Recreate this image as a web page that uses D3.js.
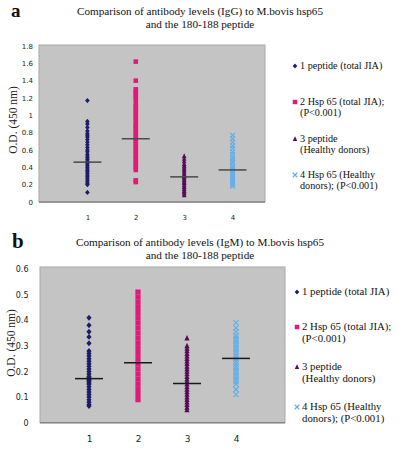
<!DOCTYPE html>
<html>
<head>
<meta charset="utf-8">
<script src="https://cdn.jsdelivr.net/npm/d3@7"></script>
<style>
  html, body { margin: 0; padding: 0; background: #ffffff; }
  svg { display: block; }
</style>
</head>
<body>
<svg id="chart" width="399" height="450"></svg>
<script>
// ---------- data ----------
const categories = [1, 2, 3, 4];
const seriesNames = [
  ["1 peptide (total JIA)"],
  ["2 Hsp 65 (total JIA);", "(P<0.001)"],
  ["3 peptide", "(Healthy donors)"],
  ["4 Hsp 65 (Healthy", "donors); (P<0.001)"]
];
const seriesColors = ["#1c1c68", "#e3197a", "#560c55", "#62b0e6"];
const seriesShapes = ["diamond", "square", "triangle", "cross"];

// Panel a (IgG)
const titleA = ["Comparison of antibody levels (IgG) to M.bovis hsp65", "and the 180-188 peptide"];
const yTicksA = [0, 0.2, 0.4, 0.6, 0.8, 1, 1.2, 1.4, 1.6, 1.8];
const igg1 = [1.17, 0.93, 0.90, 0.86, 0.82, 0.79, 0.77, 0.75, 0.72, 0.69, 0.66, 0.63, 0.60, 0.58, 0.55, 0.53, 0.51, 0.49, 0.47, 0.46, 0.44, 0.42, 0.40, 0.38, 0.36, 0.35, 0.33, 0.31, 0.29, 0.27, 0.25, 0.23, 0.21, 0.20, 0.11];
const igg2 = [1.62, 1.40, 1.30, 1.27, 1.24, 1.21, 1.18, 1.13, 1.10, 1.07, 1.04, 1.01, 0.98, 0.95, 0.91, 0.88, 0.85, 0.82, 0.79, 0.76, 0.73, 0.70, 0.67, 0.64, 0.61, 0.58, 0.55, 0.52, 0.49, 0.46, 0.43, 0.40, 0.37, 0.25, 0.23];
const igg3 = [0.53, 0.50, 0.47, 0.44, 0.42, 0.40, 0.38, 0.36, 0.34, 0.32, 0.30, 0.29, 0.28, 0.26, 0.25, 0.23, 0.22, 0.20, 0.18, 0.17, 0.15, 0.13, 0.12, 0.10, 0.08];
const igg4 = [0.77, 0.73, 0.69, 0.65, 0.62, 0.58, 0.55, 0.52, 0.50, 0.47, 0.45, 0.42, 0.40, 0.38, 0.36, 0.34, 0.32, 0.30, 0.28, 0.26, 0.24, 0.22, 0.20, 0.18];
const iggMeans = [0.46, 0.73, 0.29, 0.37];

// Panel b (IgM)
const titleB = ["Comparison of antibody levels (IgM) to M.bovis hsp65", "and the 180-188 peptide"];
const yTicksB = [0, 0.1, 0.2, 0.3, 0.4, 0.5, 0.6];
const igm1 = [0.41, 0.38, 0.355, 0.335, 0.31, 0.28, 0.27, 0.26, 0.25, 0.24, 0.23, 0.22, 0.21, 0.20, 0.19, 0.18, 0.175, 0.17, 0.165, 0.16, 0.155, 0.15, 0.14, 0.13, 0.12, 0.11, 0.10, 0.09, 0.08, 0.07, 0.065];
const igm2 = [0.51, 0.49, 0.47, 0.45, 0.43, 0.41, 0.39, 0.37, 0.35, 0.33, 0.31, 0.29, 0.27, 0.25, 0.23, 0.21, 0.19, 0.17, 0.15, 0.13, 0.11, 0.09];
const igm3 = [0.33, 0.30, 0.29, 0.28, 0.27, 0.26, 0.25, 0.24, 0.23, 0.22, 0.21, 0.20, 0.19, 0.18, 0.17, 0.16, 0.15, 0.14, 0.13, 0.12, 0.11, 0.10, 0.09, 0.08, 0.07, 0.06, 0.05];
const igm4 = [0.39, 0.37, 0.355, 0.34, 0.33, 0.32, 0.31, 0.30, 0.29, 0.28, 0.27, 0.26, 0.25, 0.24, 0.23, 0.22, 0.21, 0.20, 0.19, 0.18, 0.17, 0.16, 0.15, 0.13, 0.11];
const igmMeans = [0.172, 0.234, 0.153, 0.251];

// ---------- drawing ----------
const svg = d3.select("#chart");
const serif = "'Liberation Serif','Times New Roman',serif";
const sans = "'DejaVu Sans','Verdana',sans-serif";

function markerPath(shape, s) {
  const h = s / 2;
  if (shape === "diamond") return `M0,${-h*1.15}L${h},0L0,${h*1.15}L${-h},0Z`;
  if (shape === "square") return `M${-h},${-h}H${h}V${h}H${-h}Z`;
  if (shape === "triangle") return `M0,${-h*1.2}L${h},${h*0.9}L${-h},${h*0.9}Z`;
  return `M${-h},${-h}L${h},${h}M${h},${-h}L${-h},${h}`;
}
function styleMarker(sel, i) {
  if (seriesShapes[i] === "cross") {
    sel.attr("fill", "none").attr("stroke", seriesColors[i]).attr("stroke-width", 1.2);
  } else {
    sel.attr("fill", seriesColors[i]).attr("stroke", "none");
  }
}

function drawPanel(cfg) {
  const g = svg.append("g");
  const x = d3.scaleLinear().domain([0, cfg.xMax]).range([cfg.left, cfg.right]);
  const y = d3.scaleLinear().domain([0, cfg.yMax]).range([cfg.bottom, cfg.top]);

  // panel letter
  g.append("text").attr("x", cfg.letterX).attr("y", cfg.letterY)
    .attr("font-family", serif).attr("font-weight", "bold").attr("font-size", cfg.letterSize)
    .attr("fill", "#111").text(cfg.letter);

  // title
  cfg.title.forEach((t, k) => {
    g.append("text").attr("x", 200).attr("y", cfg.titleY + k * 13)
      .attr("text-anchor", "middle").attr("font-family", serif)
      .attr("font-size", 11.2).attr("fill", "#111").text(t);
  });

  // plot area
  g.append("rect").attr("x", cfg.left).attr("y", cfg.plotTop)
    .attr("width", cfg.right - cfg.left).attr("height", cfg.bottom - cfg.plotTop)
    .attr("fill", "#c4c4c4").attr("stroke", "#a8a8a8").attr("stroke-width", 1);
  g.append("line").attr("x1", cfg.left).attr("x2", cfg.right)
    .attr("y1", cfg.bottom).attr("y2", cfg.bottom)
    .attr("stroke", "#858585").attr("stroke-width", 1.6);

  // y axis
  const ya = g.append("g").attr("transform", `translate(${cfg.left},0)`)
    .call(d3.axisLeft(y).tickValues(cfg.yTicks).tickSize(0).tickPadding(cfg.yPad).tickFormat(d3.format("")));
  ya.select(".domain").remove();
  ya.selectAll("text").attr("font-family", sans).attr("font-size", cfg.yFont).attr("fill", "#222");

  // y label
  g.append("text").attr("transform", `translate(${cfg.yLabelX},${cfg.yLabelY}) rotate(-90)`)
    .attr("text-anchor", "middle").attr("font-family", serif).attr("font-size", 11.5)
    .attr("fill", "#222").text("O.D. (450 nm)");

  // x axis
  const xa = g.append("g").attr("transform", `translate(0,${cfg.bottom})`)
    .call(d3.axisBottom(x).tickValues(categories).tickSize(0).tickPadding(cfg.xPad).tickFormat(d3.format("d")));
  xa.select(".domain").remove();
  xa.selectAll("text").attr("font-family", sans).attr("font-size", cfg.xFont).attr("fill", "#222");

  // points
  cfg.series.forEach((vals, i) => {
    const sel = g.append("g").selectAll("path").data(vals).join("path")
      .attr("transform", d => `translate(${x(categories[i])},${y(d)})`)
      .attr("d", markerPath(seriesShapes[i], cfg.markerSize));
    styleMarker(sel, i);
  });

  // mean lines
  g.append("g").selectAll("line").data(cfg.means).join("line")
    .attr("x1", (d, i) => x(categories[i]) - 14).attr("x2", (d, i) => x(categories[i]) + 14)
    .attr("y1", d => y(d)).attr("y2", d => y(d))
    .attr("stroke", cfg.meanColor).attr("stroke-width", 1.5);

  // legend
  cfg.legendY.forEach((ly, i) => {
    const m = g.append("path").attr("transform", `translate(${cfg.legendX},${ly - 3})`)
      .attr("d", markerPath(seriesShapes[i], 4.5));
    styleMarker(m, i);
    seriesNames[i].forEach((t, k) => {
      g.append("text").attr("x", cfg.legendX + 5).attr("y", ly + k * cfg.legendLH)
        .attr("font-family", serif).attr("font-size", cfg.legendFont).attr("fill", "#111").text(t);
    });
  });
}

drawPanel({
  letter: "a", letterX: 11, letterY: 17, letterSize: 19,
  title: titleA, titleY: 15,
  left: 39, right: 265, plotTop: 45, top: 46, bottom: 202,
  xMax: 4.67, yMax: 1.8, yTicks: yTicksA,
  yFont: 7, yPad: 6, xFont: 7, xPad: 13,
  yLabelX: 17, yLabelY: 120,
  series: [igg1, igg2, igg3, igg4], means: iggMeans,
  markerSize: 4.6, meanColor: "#4a4a4a",
  legendX: 295, legendY: [69, 105, 142, 178], legendLH: 10.5, legendFont: 10.2
});

drawPanel({
  letter: "b", letterX: 12, letterY: 248, letterSize: 21,
  title: titleB, titleY: 246,
  left: 40, right: 285, plotTop: 267, top: 269, bottom: 422.7,
  xMax: 5, yMax: 0.6, yTicks: yTicksB,
  yFont: 8, yPad: 11.5, xFont: 9, xPad: 13,
  yLabelX: 15, yLabelY: 343,
  series: [igm1, igm2, igm3, igm4], means: igmMeans,
  markerSize: 5.2, meanColor: "#1a1a1a",
  legendX: 297, legendY: [295, 330, 370, 410], legendLH: 12, legendFont: 10.8
});
</script>
</body>
</html>
